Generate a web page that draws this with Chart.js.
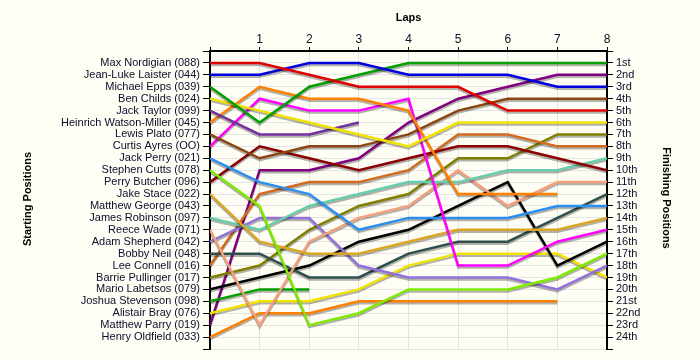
<!DOCTYPE html>
<html>
<head>
<meta charset="utf-8">
<script src="https://cdn.jsdelivr.net/npm/chart.js@4"></script>
<style>
  html, body { margin: 0; padding: 0; background: #FFFEF4; }
  #wrap { width: 700px; height: 360px; }
</style>
</head>
<body>
<div id="wrap"><canvas id="c" width="700" height="360"></canvas></div>
<script>
// ---- data ----
const drivers = [
  "Max Nordigian (088)", "Jean-Luke Laister (044)", "Michael Epps (039)", "Ben Childs (024)",
  "Jack Taylor (099)", "Heinrich Watson-Miller (045)", "Lewis Plato (077)", "Curtis Ayres (OO)",
  "Jack Perry (021)", "Stephen Cutts (078)", "Perry Butcher (096)", "Jake Stace (022)",
  "Matthew George (043)", "James Robinson (097)", "Reece Wade (071)", "Adam Shepherd (042)",
  "Bobby Neil (048)", "Lee Connell (016)", "Barrie Pullinger (017)", "Mario Labetsos (079)",
  "Joshua Stevenson (098)", "Alistair Bray (076)", "Matthew Parry (019)", "Henry Oldfield (033)"
];
const finishLabels = ["1st","2nd","3rd","4th","5th","6th","7th","8th","9th","10th","11th","12th",
  "13th","14th","15th","16th","17th","18th","19th","20th","21st","22nd","23rd","24th"];
const laps = [0, 1, 2, 3, 4, 5, 6, 7, 8];
const lapLabels = ["", "1", "2", "3", "4", "5", "6", "7", "8"];

// position of each driver (same order as drivers) at the end of each lap; null = out
const lap0 = [1,2,3,4,5,6,7,8,9,10,11,12,13,14,15,16,17,18,19,20,21,22,23,24];
const lap1 = [1,2,6,5,7,3,9,4,11,13,8,16,null,15,23,14,17,12,18,19,20,21,10,22];
const lap2 = [2,1,3,6,7,4,8,5,12,23,9,17,null,13,16,14,19,11,15,18,20,21,10,22];
const lap3 = [3,1,2,7,6,4,8,5,15,22,10,17,null,12,14,18,19,11,13,16,null,20,9,21];
const lap4 = [3,2,1,8,null,5,7,4,14,20,9,16,null,11,13,19,17,10,12,15,null,18,6,21];
const lap5 = [3,2,1,6,null,12,5,18,14,20,8,15,null,11,10,19,16,7,9,13,null,17,4,21];
const lap6 = [5,2,1,6,null,12,4,18,14,20,8,15,null,10,13,19,16,7,9,11,null,17,3,21];
const lap7 = [5,3,1,6,null,12,4,16,13,19,9,15,null,10,11,20,14,8,7,18,null,17,2,21];
const lap8 = [5,3,1,6,null,null,4,15,13,17,10,14,null,9,11,18,12,8,7,16,null,19,2,null];
const lapTable = [lap0, lap1, lap2, lap3, lap4, lap5, lap6, lap7, lap8];

// ---- styles ----
const colors = [
  "#E00000", "#0000E0", "#00A000", "#F2E200", "#7430A0", "#FF8000", "#8B4513", "#FF00FF",
  "#2A8FF0", "#7CEB00", "#8B0000", "#DAA520", "#808080", "#66CDAA", "#F4A07A", "#9370DB",
  "#2F4F4F", "#D2691E", "#808000", "#000000", "#00A000", "#F2E200", "#800080", "#FF8000"
];

const datasets = drivers.map((name, i) => {
  const data = [];
  for (let l = 0; l < laps.length; l++) {
    data.push({ x: laps[l], y: lapTable[l][i] });
  }
  return {
    label: name,
    data: data,
    borderColor: colors[i],
    backgroundColor: colors[i],
    borderWidth: 2.5,
    pointRadius: 0,
    pointHoverRadius: 0,
    tension: 0,
    spanGaps: false,
    fill: false
  };
});

const BG = "#FFFEF4";
const GRID = "#E4E4E4";
const TXT = "#0c0c2c";
const FAM = "'Liberation Sans', Arial, sans-serif";

const bgPlugin = {
  id: "bg",
  beforeDraw(chart) {
    const ctx = chart.ctx;
    ctx.save();
    ctx.fillStyle = BG;
    ctx.fillRect(0, 0, chart.width, chart.height);
    ctx.restore();
  }
};

const shadowPlugin = {
  id: "shadow",
  beforeDatasetDraw(chart) {
    const ctx = chart.ctx;
    ctx.save();
    ctx.shadowColor = "rgba(0,0,0,0.3)";
    ctx.shadowOffsetX = 0;
    ctx.shadowOffsetY = 2;
    ctx.shadowBlur = 0;
  },
  afterDatasetDraw(chart) {
    chart.ctx.restore();
  }
};

const titlePlugin = {
  id: "titles",
  afterDraw(chart) {
    const ctx = chart.ctx;
    const ca = chart.chartArea;
    ctx.save();
    ctx.fillStyle = "#000";
    ctx.font = "bold 11px " + FAM;
    ctx.textAlign = "center";
    ctx.textBaseline = "middle";
    ctx.fillText("Laps", (ca.left + ca.right) / 2, 18);

    ctx.save();
    ctx.translate(28, 199);
    ctx.rotate(-Math.PI / 2);
    ctx.fillText("Starting Positions", 0, 0);
    ctx.restore();

    ctx.save();
    ctx.translate(666, 198);
    ctx.rotate(Math.PI / 2);
    ctx.fillText("Finishing Positions", 0, 0);
    ctx.restore();
    ctx.restore();
  }
};

new Chart(document.getElementById("c"), {
  type: "line",
  data: { datasets: datasets },
  options: {
    responsive: false,
    animation: false,
    events: [],
    layout: { padding: { left: 0, right: 0, top: 0, bottom: 11 } },
    plugins: { legend: { display: false }, tooltip: { enabled: false } },
    scales: {
      x: {
        type: "linear",
        position: "top",
        min: 0, max: 8,
        afterFit(s) { s.height = 51; },
        ticks: {
          stepSize: 1,
          autoSkip: false,
          maxRotation: 0,
          padding: 1,
          color: TXT,
          font: { size: 12, family: FAM, lineHeight: 1 },
          callback: (v) => lapLabels[v] !== undefined ? lapLabels[v] : ""
        },
        grid: { color: GRID, lineWidth: 1, tickLength: 4, tickColor: "#000", tickWidth: 1 },
        border: { color: "#000", width: 2 }
      },
      y: {
        type: "linear",
        position: "left",
        reverse: true,
        min: 0, max: 25,
        afterFit(s) { s.width = 210; },
        ticks: {
          stepSize: 1,
          autoSkip: false,
          padding: 3,
          color: TXT,
          font: { size: 11, family: FAM, lineHeight: 1 },
          callback: (v) => (v >= 1 && v <= drivers.length) ? drivers[v - 1] : ""
        },
        grid: { color: GRID, lineWidth: 1, tickLength: 7, tickColor: "#000", tickWidth: 1 },
        border: { color: "#000", width: 2 }
      },
      y2: {
        type: "linear",
        position: "right",
        reverse: true,
        min: 0, max: 25,
        afterFit(s) { s.width = 93; },
        ticks: {
          stepSize: 1,
          autoSkip: false,
          padding: 3,
          color: TXT,
          font: { size: 11, family: FAM, lineHeight: 1 },
          callback: (v) => (v >= 1 && v <= finishLabels.length) ? finishLabels[v - 1] : ""
        },
        grid: { drawOnChartArea: false, tickLength: 6, tickColor: "#000", tickWidth: 1 },
        border: { color: "#000", width: 2 }
      }
    }
  },
  plugins: [bgPlugin, shadowPlugin, titlePlugin]
});
</script>
</body>
</html>
